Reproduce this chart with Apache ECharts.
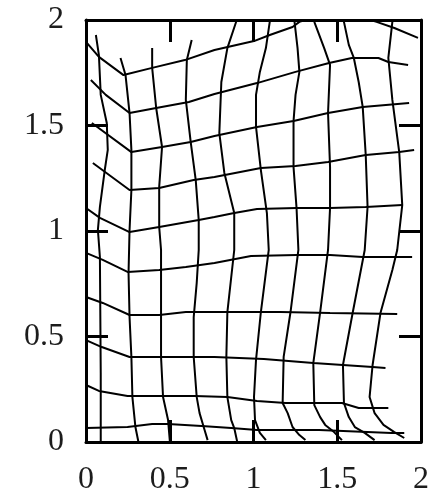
<!DOCTYPE html>
<html>
<head>
<meta charset="utf-8">
<script src="https://cdn.jsdelivr.net/npm/echarts@6/dist/echarts.min.js"></script>
<style>
  html, body { margin: 0; padding: 0; background: #fff; }
  #chart { width: 432px; height: 498px; }
</style>
</head>
<body>
<div id="chart"></div>
<script>
  // axis ticks
  const xTicks = [0, 0.5, 1, 1.5, 2];
  const yTicks = [0, 0.5, 1, 1.5, 2];

  // roughly horizontal mesh lines, top to bottom
  const h1 = [[0, 1.896], [0.077, 1.825], [0.224, 1.739], [0.395, 1.773], [0.590, 1.810], [0.767, 1.858], [1.003, 1.900], [1.097, 1.929], [1.233, 1.967], [1.274, 1.991], [1.499, 2.047], [1.735, 1.991], [1.841, 1.962], [1.982, 1.915]];
  const h2 = [[0.029, 1.716], [0.118, 1.645], [0.260, 1.559], [0.419, 1.583], [0.614, 1.611], [0.767, 1.649], [1.021, 1.701], [1.251, 1.754], [1.451, 1.796], [1.587, 1.820], [1.746, 1.820], [1.805, 1.801], [1.923, 1.787]];
  const h3 = [[0.035, 1.512], [0.271, 1.374], [0.454, 1.398], [0.625, 1.422], [0.767, 1.450], [1.021, 1.493], [1.239, 1.521], [1.445, 1.559], [1.652, 1.588], [1.929, 1.607]];
  const h4 = [[0.041, 1.322], [0.260, 1.194], [0.437, 1.204], [0.643, 1.242], [0.767, 1.256], [1.044, 1.299], [1.251, 1.308], [1.445, 1.327], [1.670, 1.360], [1.870, 1.374], [1.959, 1.384]];
  const h5 = [[0, 1.109], [0.083, 1.062], [0.260, 0.995], [0.437, 1.019], [0.673, 1.052], [0.767, 1.066], [0.885, 1.085], [1.021, 1.104], [1.257, 1.109], [1.457, 1.109], [1.670, 1.114], [1.888, 1.123]];
  const h6 = [[0, 0.896], [0.100, 0.863], [0.248, 0.806], [0.437, 0.815], [0.596, 0.829], [0.767, 0.848], [0.985, 0.882], [1.257, 0.886], [1.457, 0.886], [1.652, 0.877], [1.947, 0.877]];
  const h7 = [[0, 0.687], [0.100, 0.659], [0.260, 0.602], [0.437, 0.602], [0.596, 0.616], [0.767, 0.616], [1.162, 0.616], [1.457, 0.611], [1.858, 0.607]];
  const h8 = [[0, 0.483], [0.094, 0.450], [0.260, 0.403], [0.437, 0.403], [0.767, 0.403], [1.062, 0.393], [1.357, 0.374], [1.711, 0.355], [1.788, 0.351]];
  const h9 = [[0, 0.270], [0.077, 0.242], [0.248, 0.218], [0.472, 0.218], [0.649, 0.218], [0.844, 0.213], [1.021, 0.194], [1.192, 0.185], [1.528, 0.185], [1.628, 0.161], [1.805, 0.161]];
  const h10 = [[0, 0.066], [0.248, 0.071], [0.395, 0.085], [0.490, 0.085], [0.690, 0.076], [0.867, 0.066], [1.021, 0.057], [1.392, 0.057], [1.823, 0.043], [1.900, 0.043]];

  // roughly vertical mesh lines, left to right
  const v1 = [[0.059, 1.929], [0.077, 1.834], [0.088, 1.645], [0.124, 1.512], [0.130, 1.384], [0.112, 1.289], [0.083, 1.114], [0.071, 1.005], [0.083, 0.877], [0.088, 0.327], [0.088, 0]];
  const v2 = [[0.206, 1.820], [0.236, 1.739], [0.260, 1.559], [0.271, 1.384], [0.271, 1.194], [0.260, 1.005], [0.254, 0.801], [0.260, 0.592], [0.271, 0.403], [0.277, 0.213], [0.295, 0.071], [0.313, 0]];
  const v3 = [[0.395, 1.867], [0.395, 1.773], [0.419, 1.583], [0.454, 1.398], [0.437, 1.209], [0.437, 1.019], [0.448, 0.910], [0.448, 0.611], [0.448, 0.403], [0.460, 0.213], [0.490, 0.104], [0.501, 0]];
  const v4 = [[0.631, 1.905], [0.602, 1.810], [0.596, 1.621], [0.625, 1.422], [0.655, 1.242], [0.673, 1.052], [0.673, 0.910], [0.661, 0.754], [0.643, 0.592], [0.643, 0.403], [0.661, 0.213], [0.678, 0.137], [0.708, 0.057], [0.726, 0.009]];
  const v5 = [[0.900, 2.0], [0.844, 1.867], [0.808, 1.706], [0.796, 1.464], [0.826, 1.275], [0.885, 1.085], [0.885, 0.910], [0.844, 0.616], [0.838, 0.403], [0.844, 0.213], [0.867, 0.104], [0.885, 0.066], [0.903, 0]];
  const v6 = [[1.097, 1.991], [1.074, 1.867], [1.038, 1.754], [1.015, 1.645], [1.015, 1.493], [1.044, 1.289], [1.080, 1.085], [1.091, 0.910], [1.044, 0.616], [1.015, 0.389], [1.003, 0.213], [1.009, 0.104], [1.038, 0.043], [1.074, 0.009]];
  const v7 = [[1.245, 1.991], [1.263, 1.867], [1.274, 1.754], [1.251, 1.645], [1.239, 1.521], [1.239, 1.303], [1.257, 1.109], [1.268, 0.910], [1.221, 0.616], [1.180, 0.403], [1.174, 0.185], [1.204, 0.137], [1.233, 0.071], [1.274, 0.033], [1.310, 0.009]];
  const v8 = [[1.363, 1.991], [1.422, 1.867], [1.457, 1.787], [1.445, 1.559], [1.457, 1.303], [1.457, 1.109], [1.445, 0.910], [1.398, 0.616], [1.357, 0.374], [1.363, 0.175], [1.398, 0.118], [1.428, 0.081], [1.481, 0.047], [1.528, 0.009]];
  const v9 = [[1.540, 1.991], [1.569, 1.882], [1.599, 1.820], [1.628, 1.706], [1.652, 1.588], [1.670, 1.360], [1.681, 1.114], [1.664, 0.910], [1.593, 0.616], [1.534, 0.365], [1.540, 0.185], [1.569, 0.118], [1.605, 0.071], [1.664, 0.043], [1.723, 0.009]];
  const v10 = [[1.829, 1.991], [1.805, 1.820], [1.829, 1.621], [1.870, 1.374], [1.888, 1.123], [1.858, 0.910], [1.829, 0.815], [1.758, 0.611], [1.711, 0.365], [1.693, 0.213], [1.723, 0.137], [1.776, 0.081], [1.841, 0.047], [1.900, 0.019]];

  const meshLines = [h1, h2, h3, h4, h5, h6, h7, h8, h9, h10, v1, v2, v3, v4, v5, v6, v7, v8, v9, v10];

  const labelStyle = {
    fontSize: 32,
    fontFamily: "Liberation Serif",
    color: "#1c1c1c",
    margin: 22
  };

  function makeAxis(position, showLabel, ticks) {
    return {
      type: "value",
      position: position,
      min: ticks[0],
      max: ticks[ticks.length - 1],
      interval: 0.5,
      axisLine: {
        show: true,
        onZero: false,
        lineStyle: { color: "#000", width: 3 }
      },
      axisTick: {
        show: true,
        inside: true,
        length: 22,
        lineStyle: { color: "#000", width: 3 }
      },
      axisLabel: Object.assign({ show: showLabel }, labelStyle),
      splitLine: { show: false }
    };
  }

  const chart = echarts.init(document.getElementById("chart"));
  chart.setOption({
    animation: false,
    backgroundColor: "#fff",
    grid: { left: 86, right: 7, top: 20, bottom: 56 },
    xAxis: [makeAxis("bottom", true, xTicks), makeAxis("top", false, xTicks)],
    yAxis: [makeAxis("left", true, yTicks), makeAxis("right", false, yTicks)],
    series: meshLines.map(d => {
      return {
        type: "line",
        data: d,
        symbol: "none",
        clip: true,
        silent: true,
        lineStyle: { color: "#000", width: 2 }
      };
    })
  });
</script>
</body>
</html>
